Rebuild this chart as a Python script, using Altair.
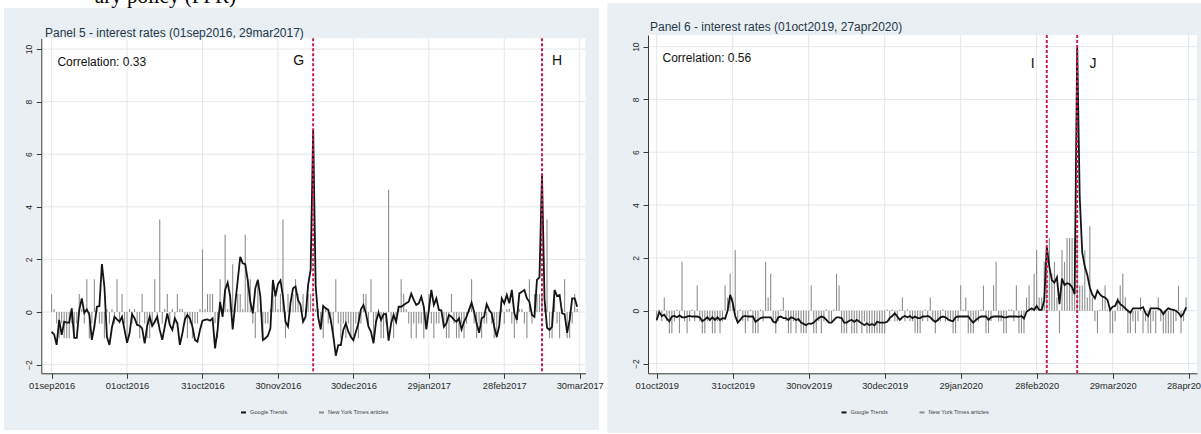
import altair as alt
import pandas as pd

# ---------------- data ----------------
SERIES = ["Google Trends", "New York Times articles"]
SERIES_COLORS = ["#141414", "#8e8e8e"]

CAPTION = "ary policy (FFR)"

LEFT_TITLE = "Panel 5 - interest rates (01sep2016, 29mar2017)"
LEFT_START = "2016-09-01"
LEFT_CORR = "Correlation: 0.33"
LEFT_EVENT_LABELS = ["G", "H"]
LEFT_EVENT_DATES = ["2016-12-14", "2017-03-15"]
LEFT_TICK_LABELS = ["01sep2016", "01oct2016", "31oct2016", "30nov2016",
                    "30dec2016", "29jan2017", "28feb2017", "30mar2017"]

RIGHT_TITLE = "Panel 6 - interest rates (01oct2019, 27apr2020)"
RIGHT_START = "2019-10-01"
RIGHT_CORR = "Correlation: 0.56"
RIGHT_EVENT_LABELS = ["I", "J"]
RIGHT_EVENT_DATES = ["2020-03-03", "2020-03-15"]
RIGHT_TICK_LABELS = ["01oct2019", "31oct2019", "30nov2019", "30dec2019",
                     "29jan2020", "28feb2020", "29mar2020", "28apr2020"]

Y_TICKS = [-2, 0, 2, 4, 6, 8, 10]

# daily Google Trends (standardised), 01sep2016 .. 29mar2017
LEFT_GT = [
    -0.75, -0.85, -1.25, -0.30, -0.87, -0.37, -0.40, -0.40, 0.14, -0.98,
    -0.98, 0.08, 0.52, -0.03, 0.10, -0.10, -1.06, -0.55, 0.20, 0.23,
    1.82, 0.96, -0.94, -1.25, -0.58, -0.18, -0.28, -0.37, -0.18, -0.68,
    -1.17, -0.81, -0.08, -0.24, -0.49, -0.52, -0.62, -1.19, -0.53, -0.18,
    -0.53, -0.37, -0.18, -0.68, -1.06, -0.56, -0.05, -0.49, -0.68, -0.24,
    -0.43, -1.25, -0.81, -0.28, -0.11, -0.24, -0.56, -1.06, -1.13, -0.68,
    -0.33, -0.30, -0.28, -0.33, -0.24, -1.38, -0.68, 0.39, -0.18, 0.84,
    1.12, 0.60, -0.66, 0.30, 1.20, 2.10, 1.85, 1.82, 1.20, 0.40,
    -0.05, 0.90, 1.22, 0.60, -1.07, -1.00, -0.90, -0.62, 1.22, 0.60,
    1.06, 1.20, 0.58, -0.37, -0.55, 0.35, 0.90, 0.97, 0.46, 0.27,
    -0.37, -0.18, 1.03, 1.60, 6.92, 1.00, -0.20, -0.66, 0.23, 0.14,
    0.08, -0.30, -0.90, -1.66, -1.26, -1.26, -0.68, -0.43, -0.75, -0.94,
    -1.07, -0.75, -0.43, 0.10, 0.27, -0.05, -0.56, -0.75, -1.19, -0.37,
    -0.03, -0.30, -0.08, -0.08, -1.09, -0.43, -0.11, -0.37, 0.20, 0.20,
    0.27, 0.33, 0.39, 0.70, 0.46, 0.27, 0.33, 0.58, 0.20, -0.66,
    0.08, 0.84, 0.27, 0.52, 0.08, 0.05, -0.56, -0.43, -0.11, -0.18,
    -0.30, -0.37, -0.24, -0.66, -0.37, -0.18, 0.08, 0.35, 0.01, -0.43,
    -0.79, -0.24, -0.18, 0.30, 0.08, -0.05, -0.56, -0.94, -0.53, 0.52,
    0.33, 0.65, 0.33, 0.84, -0.05, -0.30, 0.71, 0.77, 0.84, 0.52,
    0.39, -0.11, -0.18, 1.22, 1.32, 5.24, 0.50, -0.60, -0.68, -0.56,
    0.84, 0.61, 0.65, -0.05, -0.08, -0.79, -0.30, 0.52, 0.52, 0.20,
]

# daily New York Times articles (standardised), 01sep2016 .. 29mar2017
LEFT_NYT = [
    0.69, 0.12, -0.44, -1.0, -0.44, -1.0, -1.0, -1.0, -0.44, -1.0,
    -0.44, 0.69, 0.12, -0.44, 1.25, -1.0, -0.44, 1.25, 0.12, -0.44,
    -0.44, -1.0, 0.12, -0.44, 0.12, -0.44, 1.25, -0.44, 0.69, -0.44,
    -1.0, 0.12, -0.44, 0.12, -0.44, -1.0, 0.69, -0.44, -1.0, -1.0,
    -0.44, 1.25, -0.44, 3.52, -0.44, 0.12, 0.69, -0.44, 0.12, -0.44,
    0.69, 0.12, 0.12, -0.44, -1.0, -0.44, -1.0, -0.44, -0.44, 0.12,
    2.38, 0.12, 0.69, 0.69, 0.69, -0.44, -1.0, 1.25, 0.12, 2.95,
    0.12, 0.69, 1.82, 0.12, 0.69, 0.69, 0.12, 2.95, 1.25, 1.25,
    -0.44, -1.0, 1.25, 0.12, -1.0, -0.44, -0.44, 0.12, 0.69, 0.69,
    0.12, 0.69, 3.52, -1.0, 0.69, 0.12, 0.69, 1.25, 0.69, 0.12,
    0.69, 0.12, 0.69, 0.69, 0.12, 0.12, 0.12, -0.44, -1.0, 0.12,
    -0.44, -0.44, -1.0, 1.25, -0.44, -1.0, -0.44, -1.0, -0.44, -1.0,
    -1.0, -0.44, -1.0, -0.44, 0.69, 0.69, -0.44, 1.25, -1.0, -0.44,
    0.12, -1.0, -1.0, -0.44, 4.65, -0.44, -1.0, -0.44, 0.12, 1.25,
    0.69, 0.12, -0.44, -1.0, -0.44, -1.0, -0.44, -0.44, -1.0, -0.44,
    0.69, -0.44, -1.0, -0.44, -0.44, 0.12, -0.44, -1.0, -1.0, 0.69,
    -0.44, -1.0, -1.0, -0.44, -1.0, -0.44, 0.12, 1.25, -0.44, -1.0,
    -0.44, -1.0, -0.44, -0.44, 0.12, -0.44, -1.0, -1.0, -0.44, 0.12,
    -0.44, 0.12, 0.12, -0.44, -1.0, -0.44, 0.12, 0.12, -0.44, -1.0,
    1.25, -0.44, 0.69, 0.69, 0.69, 0.69, 0.12, 3.52, -1.0, -1.0,
    0.69, -0.44, -1.0, 0.12, 1.25, -1.0, -1.0, -0.44, 0.69, 0.12,
]

# daily Google Trends (standardised), 01oct2019 .. 27apr2020
RIGHT_GT = [
    -0.35, -0.05, -0.20, -0.15, -0.30, -0.40, -0.22, -0.20, -0.25, -0.18,
    -0.25, -0.25, -0.22, -0.20, -0.22, -0.22, -0.22, -0.25, -0.40, -0.33,
    -0.25, -0.35, -0.25, -0.35, -0.25, -0.35, -0.28, -0.30, 0.00, 0.60,
    0.30, -0.20, -0.45, -0.35, -0.22, -0.20, -0.22, -0.22, -0.22, -0.42,
    -0.35, -0.28, -0.25, -0.25, -0.25, -0.25, -0.42, -0.45, -0.25, -0.22,
    -0.28, -0.28, -0.35, -0.25, -0.28, -0.35, -0.32, -0.45, -0.50, -0.55,
    -0.48, -0.50, -0.45, -0.35, -0.28, -0.22, -0.25, -0.35, -0.45, -0.45,
    -0.35, -0.25, -0.25, -0.28, -0.45, -0.45, -0.38, -0.35, -0.42, -0.35,
    -0.42, -0.48, -0.55, -0.48, -0.55, -0.50, -0.55, -0.42, -0.45, -0.45,
    -0.45, -0.42, -0.28, -0.20, -0.10, -0.22, -0.35, -0.25, -0.20, -0.25,
    -0.20, -0.28, -0.22, -0.28, -0.28, -0.22, -0.22, -0.20, -0.25, -0.35,
    -0.42, -0.35, -0.25, -0.22, -0.25, -0.32, -0.38, -0.40, -0.25, -0.22,
    -0.22, -0.22, -0.22, -0.22, -0.35, -0.45, -0.35, -0.28, -0.22, -0.22,
    -0.22, -0.35, -0.25, -0.22, -0.22, -0.22, -0.22, -0.25, -0.25, -0.22,
    -0.22, -0.22, -0.22, -0.23, -0.20, -0.29, -0.04, 0.03, 0.09, 0.03,
    0.18, 0.03, 0.03, 0.40, 2.42, 1.67, 1.16, 1.06, 1.26, 0.25,
    1.22, 0.97, 1.04, 1.01, 0.88, 0.63, 9.95, 4.30, 2.20, 1.67,
    1.35, 0.88, 0.60, 0.47, 0.76, 0.62, 0.53, 0.50, 0.40, 0.03,
    0.15, 0.18, 0.40, 0.25, 0.18, 0.09, 0.00, -0.08, 0.09, 0.09,
    0.09, 0.09, 0.13, -0.10, -0.20, 0.09, 0.09, 0.09, 0.09, 0.03,
    -0.13, 0.00, 0.09, 0.05, 0.03, 0.00, -0.08, -0.23, -0.10, 0.13,
]

# daily New York Times articles (standardised), 01oct2019 .. 27apr2020
RIGHT_NYT = [
    -0.40, 0.05, -0.40, 0.50, -0.40, -0.85, -0.85, -0.40, 0.05, -0.85,
    1.85, -0.40, -0.85, -0.40, 0.05, -0.40, 0.95, -0.40, -0.85, -0.85,
    -0.40, -0.40, -0.85, -0.85, -0.40, -0.85, -0.40, 0.95, 0.50, 1.40,
    0.50, 2.30, -0.40, 0.05, -0.40, -0.85, -0.40, 0.05, -0.85, -0.85,
    -0.85, 0.05, -0.40, 1.85, 0.50, 1.40, -0.40, -0.85, -0.40, 0.05,
    0.50, -0.40, -0.85, -0.85, -0.40, -0.85, -0.40, -0.85, -0.85, -0.85,
    -0.40, 0.95, -0.85, -0.85, -0.40, -0.85, -0.40, 0.05, -0.40, -0.40,
    0.05, 1.40, 0.95, -0.85, -0.85, -0.85, -0.40, -0.85, -0.85, -0.85,
    -0.40, -0.85, -0.40, -0.85, -0.85, -0.85, -0.85, -0.85, -0.85, -0.85,
    -0.85, 0.05, -0.40, 0.05, -0.40, -0.40, 0.05, 0.50, -0.40, 0.05,
    -0.40, -0.40, -0.85, -0.85, -0.85, -0.40, 0.05, -0.40, 0.50, -0.40,
    -0.85, -0.40, -0.40, 0.05, -0.40, -0.40, -0.40, -0.85, -0.85, -0.40,
    0.95, 0.05, 0.50, -0.85, -0.85, -0.85, -0.40, -0.40, 0.05, 0.95,
    -0.85, -0.85, -0.40, 0.95, 1.85, -0.40, -0.40, -0.85, -0.85, 0.05,
    0.05, -0.40, 0.95, -0.85, -0.85, -0.85, 0.50, 0.95, 0.05, 1.40,
    2.30, 0.50, 0.50, 1.85, 2.30, 2.75, 1.40, 1.85, 0.50, -0.85,
    2.30, 1.85, 2.75, 2.75, 2.75, 2.75, 2.75, 0.95, 0.95, 2.30,
    0.50, 3.20, 0.50, -0.40, -0.85, 0.05, 0.50, 0.95, 0.05, -0.85,
    -0.85, -0.40, 0.50, 0.95, 1.40, 0.50, -0.85, -0.85, -0.40, -0.85,
    -0.40, 0.50, -0.85, -0.40, -0.85, -0.85, -0.40, -0.85, 0.50, -0.40,
    -0.85, -0.85, -0.85, -0.85, -0.85, -0.40, 0.95, -0.85, -0.40, 0.50,
]

for arr in (LEFT_GT, LEFT_NYT, RIGHT_GT, RIGHT_NYT):
    assert len(arr) == 210, len(arr)

# ---------------- styling / layout ----------------
FONT = "Liberation Sans"
PANEL_BG = "#e9eff2"
GRID = "#e2e9ec"
AXIS = "#3a3a3a"
AXIS_LABEL = "#2a2a2a"
TITLE_COLOR = "#26384a"
EVENT_COLOR = "#c81e4e"
W, H = 1201, 434

LEFT_GEOM = dict(panel=(4, 599, 8, 430), plot=(41.3, 585.5, 38.3, 373.3),
                 xdom=(-4.1, 212.3), ydom=(-2.33, 10.41),
                 title=(45, 32.7), corr=(57.4, 62), letter_y=61,
                 letter_dx={"G": -14.5, "H": 15}, legend=(240, 408.7))
RIGHT_GEOM = dict(panel=(607.5, 1201, 3, 433), plot=(648, 1197, 35, 373.3),
                  xdom=(-3.43, 213.3), ydom=(-2.37, 10.44),
                  title=(650, 26.7), corr=(662.5, 58), letter_y=63.7,
                  letter_dx={"I": -14, "J": 15.7}, legend=(840.5, 408.7))


def day_index(dates, start):
    s = pd.Timestamp(start)
    return [int((pd.Timestamp(d) - s).days) for d in dates]


def label_expression(tick_days, tick_labels):
    expr = "''"
    for d, t in reversed(list(zip(tick_days, tick_labels))):
        expr = "(datum.value == %d ? '%s' : %s)" % (d, t, expr)
    return expr


def panel(g, gt, nyt, start, title, corr, ev_labels, ev_dates, tick_labels):
    px0, px1, py0, py1 = g["plot"]
    xs = alt.Scale(domain=list(g["xdom"]), range=[px0, px1], nice=False, zero=False)
    ys = alt.Scale(domain=list(g["ydom"]), range=[py1, py0], nice=False, zero=False)
    cs = alt.Scale(domain=SERIES, range=SERIES_COLORS)
    one = pd.DataFrame({"k": [0]})

    tick_days = day_index([pd.to_datetime(t, format="%d%b%Y") for t in tick_labels], start)

    xaxis = alt.Axis(values=tick_days, orient="bottom", offset=py1 - H, grid=False,
                     title=None, labelExpr=label_expression(tick_days, tick_labels),
                     labelFontSize=9.3, labelFont=FONT,
                     labelColor=AXIS_LABEL, labelPadding=3, tickSize=5, tickColor=AXIS,
                     domainColor=AXIS, tickWidth=1, domainWidth=1, zindex=1,
                     labelOverlap=False, labelFlush=False)
    yaxis = alt.Axis(values=Y_TICKS, orient="left", offset=-px0, grid=False, title=None,
                     labelAngle=270, labelAlign="center", labelBaseline="bottom",
                     labelFontSize=8.5, labelFont=FONT, labelColor=AXIS_LABEL,
                     labelPadding=3, tickSize=5, tickColor=AXIS, domainColor=AXIS,
                     tickWidth=1, domainWidth=1, zindex=1, labelOverlap=False,
                     labelFlush=False)

    days = list(range(len(gt)))
    gt_df = pd.DataFrame({"day": days, "value": gt, "series": SERIES[0]})
    nyt_df = pd.DataFrame({"day": days, "value": nyt, "base": 0.0, "series": SERIES[1]})
    ev_df = pd.DataFrame({"day": day_index(ev_dates, start), "label": ev_labels})

    bg = alt.Chart(one).mark_rect(color=PANEL_BG).encode(
        x=alt.value(g["panel"][0]), x2=alt.value(g["panel"][1]),
        y=alt.value(g["panel"][2]), y2=alt.value(g["panel"][3]))
    plotbg = alt.Chart(one).mark_rect(color="white").encode(
        x=alt.value(px0), x2=alt.value(px1), y=alt.value(py0), y2=alt.value(py1))
    hgrid = alt.Chart(pd.DataFrame({"v": Y_TICKS})).mark_rule(color=GRID, strokeWidth=1).encode(
        y=alt.Y("v:Q", scale=ys, axis=yaxis), x=alt.value(px0), x2=alt.value(px1))
    vgrid = alt.Chart(pd.DataFrame({"d": tick_days})).mark_rule(color=GRID, strokeWidth=1).encode(
        x=alt.X("d:Q", scale=xs, axis=xaxis), y=alt.value(py0), y2=alt.value(py1))

    legend = alt.Legend(orient="none", legendX=g["legend"][0], legendY=g["legend"][1],
                        direction="horizontal", title=None, symbolType="stroke",
                        symbolSize=25, symbolStrokeWidth=2, labelFontSize=5.7,
                        labelFont=FONT, labelColor="#444444", labelOffset=3,
                        columnPadding=27, padding=0, labelLimit=300)

    spikes = alt.Chart(nyt_df).mark_rule(strokeWidth=1.1).encode(
        x=alt.X("day:Q", scale=xs, axis=None),
        y=alt.Y("base:Q", scale=ys, axis=None),
        y2="value:Q",
        color=alt.Color("series:N", scale=cs, legend=None))
    line = alt.Chart(gt_df).mark_line(strokeWidth=1.8).encode(
        x=alt.X("day:Q", scale=xs, axis=None),
        y=alt.Y("value:Q", scale=ys, axis=None),
        color=alt.Color("series:N", scale=cs, legend=legend))
    events = alt.Chart(ev_df).mark_rule(color=EVENT_COLOR, strokeWidth=2,
                                        strokeDash=[3, 2]).encode(
        x=alt.X("day:Q", scale=xs, axis=None), y=alt.value(py0), y2=alt.value(py1))

    letters = []
    for lab in ev_labels:
        sub = ev_df[ev_df["label"] == lab]
        letters.append(
            alt.Chart(sub).mark_text(dx=g["letter_dx"][lab], fontSize=14, font=FONT,
                                     color="#111111", align="center", baseline="middle").encode(
                x=alt.X("day:Q", scale=xs, axis=None), y=alt.value(g["letter_y"]),
                text="label:N"))

    corr_t = alt.Chart(pd.DataFrame({"t": [corr]})).mark_text(
        align="left", baseline="middle", fontSize=12, font=FONT, color="#111111").encode(
        x=alt.value(g["corr"][0]), y=alt.value(g["corr"][1]), text="t:N")
    title_t = alt.Chart(pd.DataFrame({"t": [title]})).mark_text(
        align="left", baseline="middle", fontSize=12, font=FONT, color=TITLE_COLOR).encode(
        x=alt.value(g["title"][0]), y=alt.value(g["title"][1]), text="t:N")

    return [bg, plotbg, hgrid, vgrid, spikes, line, events, *letters, corr_t, title_t]


left_layers = panel(LEFT_GEOM, LEFT_GT, LEFT_NYT, LEFT_START, LEFT_TITLE, LEFT_CORR,
                    LEFT_EVENT_LABELS, LEFT_EVENT_DATES, LEFT_TICK_LABELS)
right_layers = panel(RIGHT_GEOM, RIGHT_GT, RIGHT_NYT, RIGHT_START, RIGHT_TITLE, RIGHT_CORR,
                     RIGHT_EVENT_LABELS, RIGHT_EVENT_DATES, RIGHT_TICK_LABELS)

caption = alt.Chart(pd.DataFrame({"t": [CAPTION]})).mark_text(
    align="right", baseline="alphabetic", fontSize=21, font="Liberation Serif",
    color="#000000").encode(x=alt.value(236), y=alt.value(2.5), text="t:N")

chart = alt.layer(*left_layers, *right_layers, caption).resolve_scale(
    x="independent", y="independent", color="independent"
).properties(
    width=W, height=H, padding=0, autosize=alt.AutoSizeParams(type="none")
).configure_view(stroke=None)

chart.save("out.html", embed_options={"renderer": "svg", "actions": False})
